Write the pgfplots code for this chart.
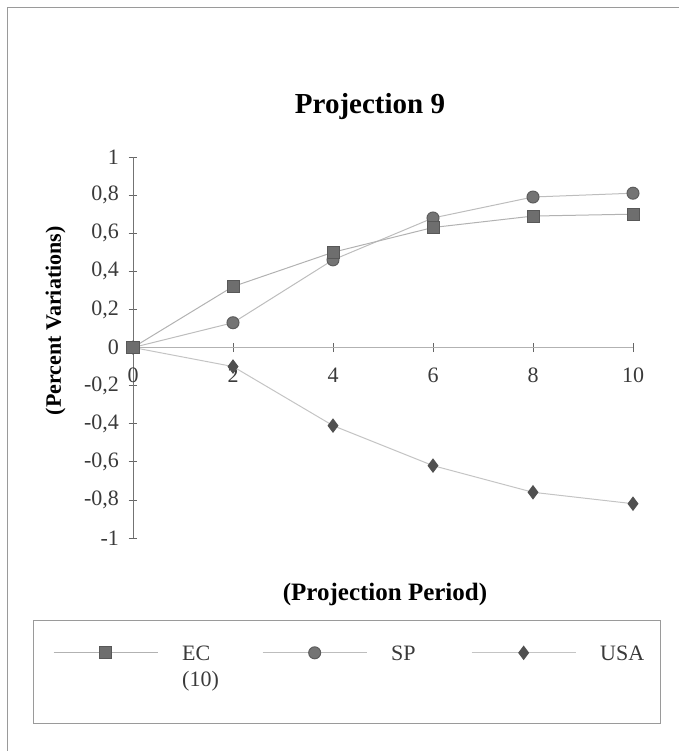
\documentclass[border=0pt]{standalone}
\usepackage{pgfplots}
\pgfplotsset{compat=1.18}
\usepackage{fontspec}
\setmainfont{Liberation Serif}

\definecolor{framegray}{HTML}{9A9A9A}
\definecolor{ecline}{HTML}{B2B2B2}
\definecolor{spline}{HTML}{BDBDBD}
\definecolor{usaline}{HTML}{C4C4C4}
\definecolor{ecmark}{HTML}{6E6E6E}
\definecolor{spmark}{HTML}{747474}
\definecolor{usamark}{HTML}{505050}
\definecolor{ticktext}{HTML}{3A3A3A}

\begin{document}
\begin{tikzpicture}
\useasboundingbox (0,0) rectangle (679bp,-751bp);
% outer chart frame (left and top edges)
\draw[framegray, line width=0.8bp] (7bp,-751bp) -- (7bp,-7bp) -- (679bp,-7bp);

\begin{axis}[
  at={(133bp,-538bp)}, anchor=south west,
  scale only axis, width=500bp, height=381bp,
  xmin=0, xmax=10, ymin=-1, ymax=1,
  axis x line=middle, axis y line=left,
  axis line style={-},
  x axis line style={color=ecline, line width=0.9bp},
  y axis line style={color=gray!90!black, line width=1bp},
  hide obscured x ticks=false, hide obscured y ticks=false,
  xtick={0,2,...,10}, ytick={-1,-0.8,...,1},
  tick align=center, major tick length=9bp,
  every tick/.style={color=gray!80!black, line width=0.7bp},
  /pgf/number format/assume math mode=true,
  /pgf/number format/use comma,
  yticklabel={\pgfmathprintnumber[fixed,precision=1,use comma]{\tick}},
  xticklabel style={font=\fontsize{22bp}{26bp}\selectfont, text=ticktext, yshift=-12bp},
  yticklabel style={font=\fontsize{22bp}{26bp}\selectfont, text=ticktext, xshift=-6bp},
  clip=false,
  title={Projection 9},
  title style={at={(axis description cs:0.474,1.118)}, anchor=center,
    font=\bfseries\fontsize{29bp}{33bp}\selectfont},
  xlabel={(Projection Period)},
  xlabel style={at={(axis description cs:0.504,-0.148)}, anchor=center,
    font=\bfseries\fontsize{25bp}{29bp}\selectfont},
  ylabel={(Percent Variations)},
  ylabel style={at={(axis description cs:-0.155,0.57)}, anchor=center, rotate=0,
    font=\bfseries\fontsize{22bp}{26bp}\selectfont},
  reverse legend,
  legend columns=3,
  legend style={at={(axis description cs:-0.2,-0.215)}, anchor=north west,
    draw=none, fill=none,
    inner xsep=20bp, inner ysep=20bp,
    font=\fontsize{22bp}{26bp}\selectfont,
    nodes={text=ticktext, anchor=base west},
    /tikz/every odd column/.append style={column sep=22bp},
    /tikz/every even column/.append style={column sep=30bp},
  },
  legend image code/.code={%
    \draw[mark repeat=2, mark phase=2] plot coordinates {(0bp,7.5bp) (52bp,7.5bp) (104bp,7.5bp)};},
]
% USA
\addplot[usaline, line width=1bp, mark=diamond*, mark size=6.5bp,
  mark options={fill=usamark, draw=usamark, solid}]
  coordinates {(0,0) (2,-0.10) (4,-0.41) (6,-0.62) (8,-0.76) (10,-0.82)};
\addlegendentry{\makebox[48bp][l]{USA}}
% SP
\addplot[spline, line width=1bp, mark=*, mark size=6bp,
  mark options={fill=spmark, draw=spmark!80!black, solid}]
  coordinates {(0,0) (2,0.13) (4,0.46) (6,0.68) (8,0.79) (10,0.81)};
\addlegendentry{\makebox[48bp][l]{SP}}
% EC (10)
\addplot[ecline, line width=1bp, mark=square*, mark size=6bp,
  mark options={fill=ecmark, draw=ecmark!80!black, solid}]
  coordinates {(0,0) (2,0.32) (4,0.50) (6,0.63) (8,0.69) (10,0.70)};
\addlegendentry{\makebox[48bp][l]{\begin{tabular}[t]{@{}l@{}}EC\\(10)\end{tabular}}}
\end{axis}
% legend frame
\draw[framegray, line width=0.8bp] (33bp,-620bp) rectangle (660bp,-723bp);
\end{tikzpicture}
\end{document}
